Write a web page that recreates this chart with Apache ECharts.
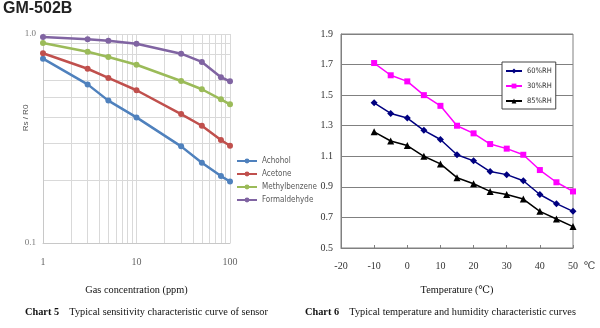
<!DOCTYPE html>
<html><head><meta charset="utf-8">
<script src="https://cdn.jsdelivr.net/npm/echarts@6/dist/echarts.min.js"></script>
<style>html,body{margin:0;padding:0;background:#fff}#c{width:600px;height:328px}</style>
</head><body><div id="c"></div>
<script>
// ---- Chart 5 (sensitivity, log-log) ----
const concPPM = [1, 3, 5, 10, 30, 50, 80, 100];
const achohol = [0.762, 0.574, 0.480, 0.399, 0.290, 0.242, 0.209, 0.197];
const acetone = [0.809, 0.682, 0.616, 0.538, 0.414, 0.364, 0.311, 0.292];
const methylbenzene = [0.906, 0.823, 0.776, 0.713, 0.596, 0.544, 0.487, 0.461];
const formaldehyde = [0.967, 0.943, 0.929, 0.899, 0.805, 0.735, 0.621, 0.594];
const leftXMinorGrid = [2, 3, 4, 5, 6, 7, 8, 9, 20, 30, 40, 50, 60, 70, 80, 90];
const leftYMinorGrid = [0.2, 0.3, 0.4, 0.5, 0.6, 0.8, 0.9];
const gasNames = ['Achohol', 'Acetone', 'Methylbenzene', 'Formaldehyde'];

// ---- Chart 6 (temperature / humidity) ----
const tempC = [-10, -5, 0, 5, 10, 15, 20, 25, 30, 35, 40, 45, 50];
const rh60 = [1.45, 1.38, 1.35, 1.27, 1.21, 1.11, 1.07, 1.00, 0.98, 0.94, 0.85, 0.79, 0.74];
const rh30 = [1.71, 1.63, 1.59, 1.50, 1.43, 1.30, 1.25, 1.18, 1.15, 1.11, 1.01, 0.93, 0.87];
const rh85 = [1.26, 1.20, 1.17, 1.10, 1.05, 0.96, 0.92, 0.87, 0.85, 0.82, 0.74, 0.69, 0.64];
const rhNames = ['60%RH', '30%RH', '85%RH'];

const pair = (xs, ys) => xs.map((x, i) => [x, ys[i]]);
const serif = '"Liberation Serif", "DejaVu Serif", serif';
const narrow = '"Liberation Sans Narrow", "DejaVu Sans Condensed", "Liberation Sans", sans-serif';

const leftColors = ['#4F81BD', '#C0504D', '#9BBB59', '#8064A2'];
const leftData = [achohol, acetone, methylbenzene, formaldehyde];

const leftSeries = leftData.map((d, i) => ({
  name: gasNames[i], type: 'line', xAxisIndex: 0, yAxisIndex: 0,
  data: pair(concPPM, d), symbol: 'circle', symbolSize: 6,
  lineStyle: { width: 2.5, color: leftColors[i] },
  itemStyle: { color: leftColors[i] }, z: 10, animation: false
}));

const gridSeries = {
  name: 'grid5', type: 'line', xAxisIndex: 0, yAxisIndex: 0,
  data: [[1, 1]], symbol: 'none', lineStyle: { opacity: 0 }, silent: true, z: 0,
  animation: false,
  markLine: {
    z: 0, silent: true, symbol: ['none', 'none'], label: { show: false }, animation: false,
    lineStyle: { color: '#d9d9d9', type: 'solid', width: 1 },
    data: leftXMinorGrid.map(v => ({ xAxis: v })).concat(leftYMinorGrid.map(v => ({ yAxis: v })))
  }
};

const rightSeries = [
  { name: rhNames[0], data: pair(tempC, rh60), color: '#000080', symbol: 'diamond', size: 7 },
  { name: rhNames[1], data: pair(tempC, rh30), color: '#FF00FF', symbol: 'rect', size: 6 },
  { name: rhNames[2], data: pair(tempC, rh85), color: '#000000', symbol: 'triangle', size: 7 }
].map(s => ({
  name: s.name, type: 'line', xAxisIndex: 1, yAxisIndex: 1, data: s.data,
  symbol: s.symbol, symbolSize: s.size,
  lineStyle: { width: 1.5, color: s.color }, itemStyle: { color: s.color }, z: 10, animation: false
}));

const chart = echarts.init(document.getElementById('c'), null, { renderer: 'canvas' });
chart.setOption({
  backgroundColor: '#fff',
  animation: false,
  grid: [
    { left: 43, right: 370, top: 34, bottom: 85, containLabel: false },
    { left: 341, right: 27, top: 34, bottom: 80, containLabel: false, show: true, borderColor: '#808080', borderWidth: 1 }
  ],
  xAxis: [
    { type: 'log', gridIndex: 0, min: 1, max: 100, logBase: 10,
      axisLine: { show: true, onZero: false, lineStyle: { color: '#c8c8c8' } }, axisTick: { show: false },
      axisLabel: { color: '#666', fontFamily: serif, fontSize: 10, margin: 14 },
      splitLine: { show: true, lineStyle: { color: '#d9d9d9' } },
      name: 'Gas concentration (ppm)', nameLocation: 'middle', nameGap: 42,
      nameTextStyle: { color: '#111', fontFamily: serif, fontSize: 10.3 } },
    { type: 'value', gridIndex: 1, min: -20, max: 50, interval: 10,
      axisLine: { show: true, onZero: false, lineStyle: { color: '#808080' } },
      axisTick: { show: true, inside: true, length: 3, lineStyle: { color: '#808080' } },
      axisLabel: { color: '#333', fontFamily: serif, fontSize: 10, margin: 13 },
      splitLine: { show: false },
      name: 'Temperature (℃)', nameLocation: 'middle', nameGap: 37,
      nameTextStyle: { color: '#111', fontFamily: serif, fontSize: 10.3 } }
  ],
  yAxis: [
    { type: 'log', gridIndex: 0, min: 0.1, max: 1, logBase: 10,
      axisLine: { show: true, onZero: false, lineStyle: { color: '#c8c8c8' } }, axisTick: { show: false },
      axisLabel: { color: '#777', fontFamily: serif, fontSize: 9, margin: 7,
        formatter: v => Number(v).toFixed(1) },
      splitLine: { show: true, lineStyle: { color: '#d9d9d9' } } },
    { type: 'value', gridIndex: 1, min: 0.5, max: 1.9, interval: 0.2,
      axisLine: { show: true, onZero: false, lineStyle: { color: '#808080' } }, axisTick: { show: false },
      axisLabel: { color: '#333', fontFamily: serif, fontSize: 10, margin: 8,
        formatter: v => Number(v).toFixed(1) },
      splitLine: { show: true, lineStyle: { color: '#808080', width: 1 } } }
  ],
  legend: [
    { data: gasNames, orient: 'vertical', left: 236, top: 157, itemWidth: 20, itemHeight: 6,
      itemGap: 5, padding: 0, textStyle: { color: '#595959', fontFamily: narrow, fontSize: 8 } },
    { data: rhNames, orient: 'vertical', left: 502, top: 62, itemWidth: 16, itemHeight: 6,
      itemGap: 7, padding: [5, 4, 4, 3], backgroundColor: '#fff', borderColor: '#444', borderWidth: 1,
      borderRadius: 0,
      textStyle: { color: '#333', fontFamily: narrow, fontSize: 7.5 } }
  ],
  graphic: [
    { type: 'text', left: 3, top: 1, style: { text: 'GM-502B', fill: '#222',
      font: 'bold 16px "Liberation Sans", Arial, sans-serif' } },
    { type: 'text', x: 26, y: 118, rotation: Math.PI / 2,
      style: { text: 'Rs / R0', fill: '#555', font: '8px "Liberation Sans", sans-serif',
        align: 'center', verticalAlign: 'middle' } },
    { type: 'text', x: 584, y: 266, style: { text: '℃', fill: '#333',
      font: '10px ' + serif, align: 'left', verticalAlign: 'middle' } },
    { type: 'text', x: 25, y: 312, style: {
      text: '{b|Chart 5}    Typical sensitivity characteristic curve of sensor',
      fill: '#111', font: '10.3px ' + serif, verticalAlign: 'middle',
      rich: { b: { fontWeight: 'bold', fontFamily: serif, fontSize: 10.3, fill: '#111' } } } },
    { type: 'text', x: 305, y: 312, style: {
      text: '{b|Chart 6}    Typical temperature and humidity characteristic curves',
      fill: '#111', font: '10.3px ' + serif, verticalAlign: 'middle',
      rich: { b: { fontWeight: 'bold', fontFamily: serif, fontSize: 10.3, fill: '#111' } } } }
  ],
  series: [gridSeries].concat(leftSeries, rightSeries)
});
</script></body></html>
